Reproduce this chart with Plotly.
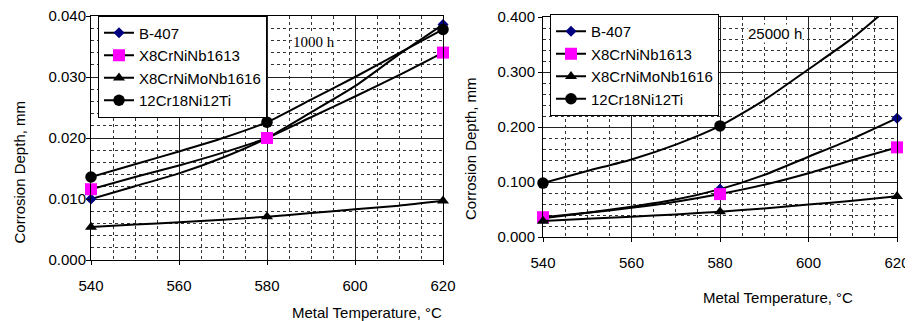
import plotly.graph_objects as go

# ---------------- data ----------------
temps = [540, 550, 560, 570, 580, 590, 600, 610, 620]
marker_temps = [540, 580, 620]
x_ticks = [540, 560, 580, 600, 620]

series_names = ["B-407", "X8CrNiNb1613", "X8CrNiMoNb1616", "12Cr18Ni12Ti"]

# 1000 h, corrosion depth (mm)
b407_1000 = [0.0100, 0.0121, 0.0142, 0.0168, 0.0200, 0.0242, 0.0285, 0.0337, 0.0386]
nb1613_1000 = [0.0116, 0.0136, 0.0155, 0.0176, 0.0200, 0.0234, 0.0268, 0.0303, 0.0340]
monb1616_1000 = [0.0054, 0.0058, 0.0062, 0.0066, 0.0071, 0.0077, 0.0083, 0.0089, 0.0097]
ti_1000 = [0.0136, 0.0157, 0.0178, 0.0200, 0.0226, 0.0263, 0.0300, 0.0339, 0.0378]

# 25000 h, corrosion depth (mm)
b407_25000 = [0.034, 0.044, 0.055, 0.068, 0.087, 0.113, 0.146, 0.179, 0.216]
nb1613_25000 = [0.036, 0.044, 0.053, 0.064, 0.078, 0.095, 0.116, 0.140, 0.163]
monb1616_25000 = [0.029, 0.033, 0.037, 0.041, 0.046, 0.052, 0.059, 0.066, 0.074]
ti_25000 = [0.098, 0.120, 0.141, 0.168, 0.202, 0.249, 0.305, 0.362, 0.430]

y_max_1000 = 0.04
y_max_25000 = 0.4

label_1000 = "1000 h"
label_25000 = "25000 h"
y_title = "Corrosion Depth, mm"
x_title = "Metal Temperature, °C"

# ---------------- layout helpers ----------------
# the page body adds an 8px margin; the figure is sized so it fills the window
OFF = 8
W, H = 913 - OFF, 321 - OFF
FONT = "Arial, Liberation Sans, sans-serif"
styles = [
    dict(symbol="diamond", color="#000080", size=8.5),
    dict(symbol="square", color="#FF00FF", size=12),
    dict(symbol="triangle-up", color="#000000", size=10.5),
    dict(symbol="circle", color="#000000", size=11.5),
]


def px(x):
    return (x - OFF) / W


def py(y):
    return 1 - (y - OFF) / H


fig = go.Figure()

panels = [
    ("x", "y", "legend", y_max_1000, [b407_1000, nb1613_1000, monb1616_1000, ti_1000]),
    ("x2", "y2", "legend2", y_max_25000, [b407_25000, nb1613_25000, monb1616_25000, ti_25000]),
]

for xa, ya, leg, ymax, data in panels:
    for name, st, vals in zip(series_names, styles, data):
        # smooth line through all points
        fig.add_trace(go.Scatter(
            x=temps, y=vals, mode="lines", xaxis=xa, yaxis=ya,
            line=dict(color="black", width=2, shape="spline", smoothing=0.6),
            showlegend=False, hoverinfo="skip"))
        # markers only at measured temperatures (and within the axis range)
        mx = [t for t, v in zip(temps, vals) if t in marker_temps and v <= ymax]
        my = [v for t, v in zip(temps, vals) if t in marker_temps and v <= ymax]
        fig.add_trace(go.Scatter(
            x=mx, y=my, mode="markers", xaxis=xa, yaxis=ya, cliponaxis=False,
            marker=dict(symbol=st["symbol"], color=st["color"], size=st["size"],
                        line=dict(width=0)),
            showlegend=False))
        # legend entry
        fig.add_trace(go.Scatter(
            x=[None], y=[None], mode="lines+markers", xaxis=xa, yaxis=ya,
            name=name, legend=leg,
            line=dict(color="black", width=2),
            marker=dict(symbol=st["symbol"], color=st["color"], size=st["size"],
                        line=dict(width=0))))

axis_common = dict(
    showline=True, linecolor="black", linewidth=1, mirror=True,
    ticks="outside", ticklen=4, tickcolor="black", tickwidth=1,
    showgrid=True, gridcolor="#222222", gridwidth=1,
    zeroline=False, automargin=False, ticklabeloverflow="allow",
    tickfont=dict(family=FONT, size=15, color="black"),
)

xaxis_common = dict(axis_common, range=[540, 620], tickvals=x_ticks,
                    ticklabelstandoff=8,
                    minor=dict(dtick=5, tick0=540, showgrid=True, griddash="dot",
                               gridcolor="#333333", gridwidth=1, ticks=""))

fig.update_layout(
    width=W, height=H,
    margin=dict(l=0, r=0, t=0, b=0, autoexpand=False),
    paper_bgcolor="white", plot_bgcolor="white",
    font=dict(family=FONT, size=15, color="black"),
    xaxis=dict(xaxis_common, domain=[px(91), px(443)], anchor="y"),
    yaxis=dict(axis_common, domain=[py(260), py(16)], anchor="x",
               range=[0, y_max_1000], dtick=0.01, tick0=0, tickformat=".3f",
               ticklabelstandoff=-3,
               minor=dict(dtick=0.002, tick0=0, showgrid=True, griddash="dot",
                          gridcolor="#333333", gridwidth=1, ticks="")),
    xaxis2=dict(xaxis_common, domain=[px(543), px(897)], anchor="y2"),
    yaxis2=dict(axis_common, domain=[py(237), py(17)], anchor="x2",
                range=[0, y_max_25000], dtick=0.1, tick0=0, tickformat=".3f",
                minor=dict(dtick=0.02, tick0=0, showgrid=True, griddash="dot",
                           gridcolor="#333333", gridwidth=1, ticks="")),
    legend=dict(x=px(98), y=py(15.5), xanchor="left", yanchor="top",
                bgcolor="white", bordercolor="black", borderwidth=1,
                font=dict(family=FONT, size=15, color="black"),
                tracegroupgap=0),
    legend2=dict(x=px(550), y=py(14), xanchor="left", yanchor="top",
                 bgcolor="white", bordercolor="black", borderwidth=1,
                 font=dict(family=FONT, size=15, color="black"),
                 tracegroupgap=0),
    showlegend=True,
)


def ann(text, x, y, angle=0, family=FONT, bg=None):
    d = dict(text=text, x=px(x), y=py(y), xref="paper", yref="paper",
             xanchor="center", yanchor="middle", textangle=angle,
             showarrow=False, font=dict(family=family, size=15, color="black"))
    if bg:
        d.update(bgcolor=bg, borderpad=0)
    return d


annotations = [
    ann(label_1000, 314, 42, family="Times New Roman, Liberation Serif, serif", bg="white"),
    ann(label_25000, 775, 34, bg="white"),
    ann(y_title, 18.5, 172, angle=-90),
    ann(y_title, 470, 148, angle=-90),
    ann(x_title, 367, 312),
    ann(x_title, 778, 297),
]
fig.update_layout(annotations=annotations)

fig.write_html("out.html")
